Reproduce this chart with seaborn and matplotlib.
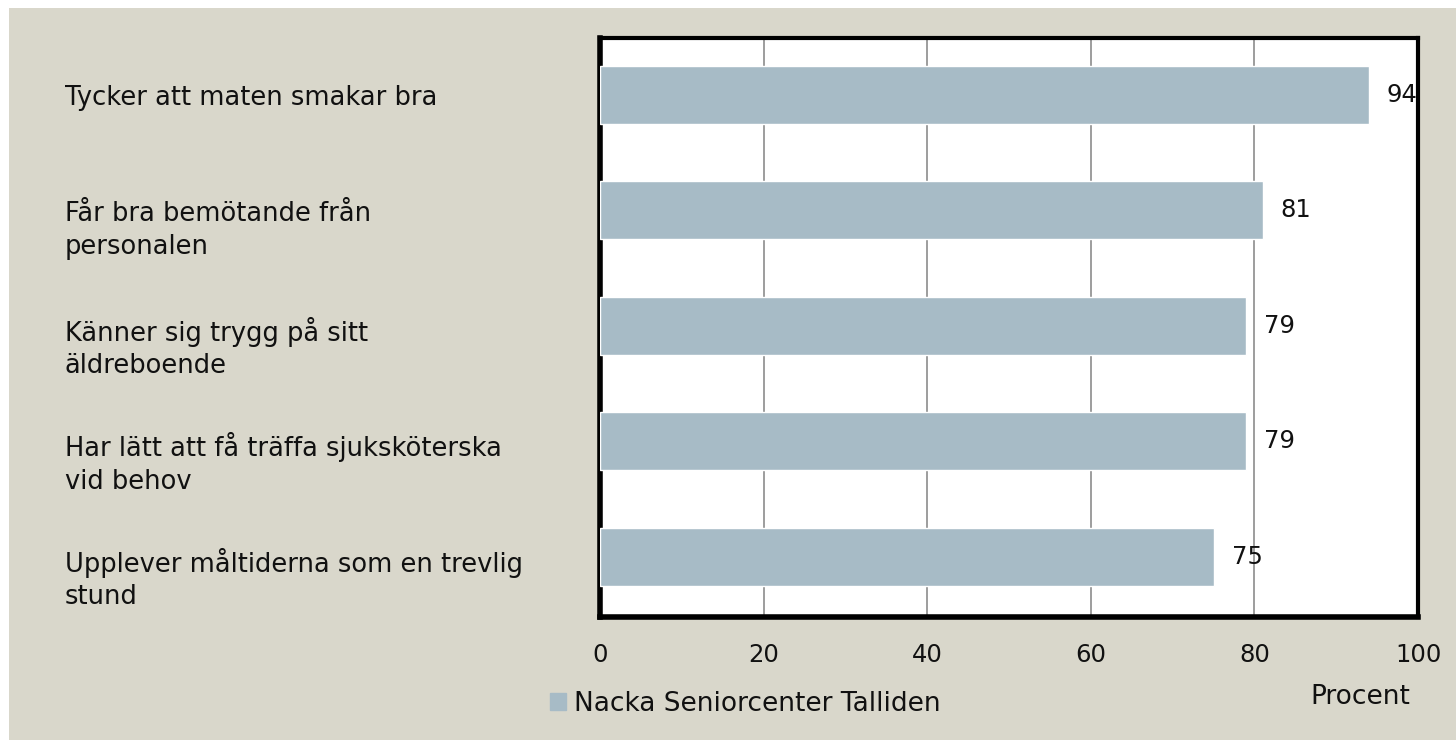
import matplotlib
matplotlib.use("Agg")
import matplotlib.pyplot as plt
import matplotlib.patches as mpatches
import matplotlib.transforms as mtransforms
import seaborn as sns
import pandas as pd

# data
categories = [
    "Tycker att maten smakar bra",
    "Får bra bemötande från\npersonalen",
    "Känner sig trygg på sitt\näldreboende",
    "Har lätt att få träffa sjuksköterska\nvid behov",
    "Upplever måltiderna som en trevlig\nstund",
]
values = [94, 81, 79, 79, 75]
series_name = "Nacka Seniorcenter Talliden"
x_ticks = [0, 20, 40, 60, 80, 100]

bg = "#D9D7CB"
bar_color = "#A7BBC6"

sns.set_theme(style="white")
plt.rcParams['font.family'] = ['DejaVu Sans']

fig = plt.figure(figsize=(14.56, 7.4), dpi=100, facecolor="white")
# beige panel with a thin white margin on the top and left
fig.patches.append(mpatches.Rectangle((9 / 1456, 0), 1, 1 - 8 / 740, transform=fig.transFigure,
                                      facecolor=bg, edgecolor="none", zorder=-10))

ax = fig.add_axes([600 / 1456, 1 - 617 / 740, 818 / 1456, 579 / 740])
ax.set_facecolor("white")

df = pd.DataFrame({"kategori": categories, "procent": values})
sns.barplot(data=df, x="procent", y="kategori", orient="h", color=bar_color,
            saturation=1, width=0.5, ax=ax, zorder=3)

ax.set_xlim(0, 100)
ax.set_ylim(4.52, -0.49)
ax.set_xticks(x_ticks)
ax.set_xticklabels([str(t) for t in x_ticks], fontsize=17.5)
ax.tick_params(axis="x", length=0, pad=19, colors="#111111")
ax.xaxis.grid(True, color="#8C8C8C", linewidth=1.2, zorder=0)
ax.set_axisbelow(True)
ax.set_ylabel("")
ax.set_xlabel("")
ax.set_yticks(range(len(categories)))
ax.set_yticklabels([])
ax.tick_params(axis="y", length=0)
for s in ax.spines.values():
    s.set_visible(True)
    s.set_color("black")
    s.set_linewidth(3)
ax.spines["left"].set_linewidth(4)
ax.spines["bottom"].set_linewidth(4)

# value labels
for c in ax.containers:
    ax.bar_label(c, labels=[str(v) for v in values], padding=13, fontsize=17.5,
                 color="#111111", zorder=5)

# category labels on the left
trans = mtransforms.blended_transform_factory(fig.transFigure, ax.transData)
for i, cat in enumerate(categories):
    ax.text(65 / 1456, i - 0.08, cat, transform=trans, ha="left", va="top",
            fontsize=18.5, linespacing=1.33, color="#111111", clip_on=False)

# axis title and legend
fig.text(1360 / 1456, 1 - 697 / 740, "Procent", ha="center", va="center",
         fontsize=19, color="#111111")
handle = mpatches.Patch(color=bar_color, label=series_name)
fig.legend(handles=[handle], loc="center", bbox_to_anchor=(745 / 1456, 1 - 704 / 740),
           frameon=False, fontsize=19, handlelength=0.6, handleheight=0.6,
           handletextpad=0.3, labelcolor="#111111")

fig.savefig("out.png", dpi=100, facecolor=fig.get_facecolor())
